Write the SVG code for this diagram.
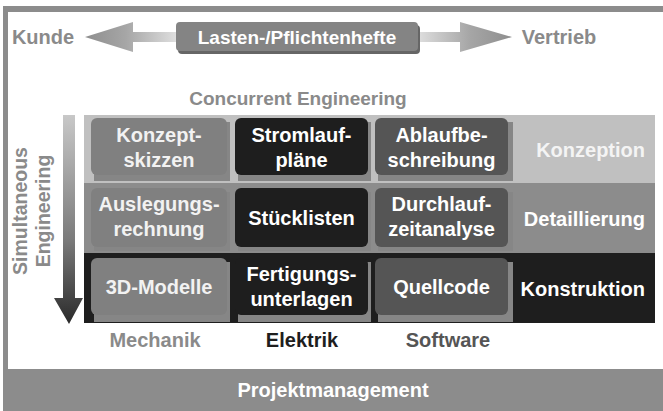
<svg xmlns="http://www.w3.org/2000/svg" width="663" height="411" viewBox="0 0 663 411">
<defs>
<linearGradient id="gL" x1="0" y1="0" x2="1" y2="0"><stop offset="0" stop-color="#8e8e8e"/><stop offset="0.45" stop-color="#a6a6a6"/><stop offset="1" stop-color="#dedede"/></linearGradient>
<linearGradient id="gR" x1="0" y1="0" x2="1" y2="0"><stop offset="0" stop-color="#dedede"/><stop offset="0.55" stop-color="#a6a6a6"/><stop offset="1" stop-color="#8e8e8e"/></linearGradient>
<linearGradient id="gV" x1="0" y1="0" x2="0" y2="1"><stop offset="0" stop-color="#c8c8c8"/><stop offset="0.6" stop-color="#7a7a7a"/><stop offset="1" stop-color="#2a2a2a"/></linearGradient>
<style>
text{font-family:"Liberation Sans",Arial,sans-serif;font-weight:bold;font-size:20px;text-anchor:middle}
.w{fill:#ffffff}
.sh{fill:#868686}
.c1{fill:#808080}
.c2{fill:#1e1e1e}
.c3{fill:#555555}
</style>
</defs>
<rect x="0" y="0" width="663" height="411" fill="#ffffff"/>
<!-- frame -->
<rect x="3" y="6" width="660" height="6" fill="#8c8c8c"/>
<rect x="3" y="6" width="5" height="365" fill="#8c8c8c"/>
<g id="projektmanagement">
<rect x="3" y="369" width="660" height="42" fill="#8c8c8c"/>
<text x="333" y="397" class="w">Projektmanagement</text>
</g>
<!-- top -->
<g id="kunde"><text x="43" y="44" fill="#8a8a8a">Kunde</text></g>
<g id="vertrieb"><text x="559" y="44" fill="#8a8a8a">Vertrieb</text></g>
<g id="connectors">
<path d="M85,37 L133,22 L133,32 L176,32 L176,42 L133,42 L133,52 Z" fill="url(#gL)"/>
<path d="M512,37 L460,22 L460,32 L418,32 L418,42 L460,42 L460,52 Z" fill="url(#gR)"/>
<path d="M63,115 L75,115 L75,298 L83,298 L69,324 L54,298 L63,298 Z" fill="url(#gV)"/>
</g>
<g id="lasten">
<rect x="178" y="25" width="242" height="29" rx="4" fill="#666666"/>
<rect x="176" y="22" width="242" height="29" rx="4" fill="#848484"/>
<text x="297" y="44" class="w" style="font-size:19px">Lasten-/Pflichtenhefte</text>
</g>
<g id="concurrent"><text x="298" y="105" fill="#8a8a8a" style="font-size:19px">Concurrent Engineering</text></g>
<g id="simultaneous">
<text transform="translate(27,211) rotate(-90)" fill="#8a8a8a" style="font-size:19.5px">Simultaneous</text>
<text transform="translate(50,211) rotate(-90)" fill="#8a8a8a" style="font-size:19.5px">Engineering</text>
</g>
<!-- rows -->
<g id="row-konzeption">
<rect x="84" y="115" width="571" height="68" fill="#c0c0c0"/>
<text x="645" y="157" fill="#f4f4f4" style="text-anchor:end">Konzeption</text>
</g>
<g id="row-detaillierung">
<rect x="84" y="183" width="571" height="70" fill="#8c8c8c"/>
<text x="645" y="226" class="w" style="text-anchor:end">Detaillierung</text>
</g>
<g id="row-konstruktion">
<rect x="84" y="253" width="571" height="70" fill="#1e1e1e"/>
<text x="645" y="296" class="w" style="text-anchor:end">Konstruktion</text>
</g>
<!-- cells row 1 -->
<g id="konzeptskizzen">
<rect class="sh" x="94" y="122" width="136" height="59"/>
<rect class="c1" x="91" y="118" width="136" height="57" rx="6"/>
<text x="159" y="142" fill="#f2f2f2">Konzept-</text><text x="159" y="167" fill="#f2f2f2">skizzen</text>
</g>
<g id="stromlaufplaene">
<rect class="sh" x="238" y="122" width="133" height="59"/>
<rect class="c2" x="235" y="118" width="133" height="57" rx="6"/>
<text x="301.5" y="142" class="w">Stromlauf-</text><text x="301.5" y="167" class="w">pläne</text>
</g>
<g id="ablaufbeschreibung">
<rect class="sh" x="378" y="122" width="135" height="59"/>
<rect class="c3" x="375" y="118" width="133" height="57" rx="6"/>
<text x="441.5" y="142" class="w">Ablaufbe-</text><text x="441.5" y="167" class="w">schreibung</text>
</g>
<!-- cells row 2 -->
<g id="auslegungsrechnung">
<rect class="sh" x="94" y="192" width="136" height="59"/>
<rect class="c1" x="91" y="188" width="136" height="59" rx="6"/>
<text x="159" y="211" fill="#f2f2f2">Auslegungs-</text><text x="159" y="236" fill="#f2f2f2">rechnung</text>
</g>
<g id="stuecklisten">
<rect class="sh" x="238" y="192" width="133" height="59"/>
<rect class="c2" x="235" y="188" width="133" height="59" rx="6"/>
<text x="301.5" y="224.5" class="w">Stücklisten</text>
</g>
<g id="durchlaufzeitanalyse">
<rect class="sh" x="378" y="192" width="135" height="59"/>
<rect class="c3" x="375" y="188" width="133" height="59" rx="6"/>
<text x="441.5" y="211" class="w">Durchlauf-</text><text x="441.5" y="236" class="w">zeitanalyse</text>
</g>
<!-- cells row 3 -->
<g id="modelle3d">
<rect class="sh" x="94" y="262" width="136" height="60"/>
<rect class="c1" x="91" y="258" width="136" height="57" rx="6"/>
<text x="159" y="293.5" fill="#f2f2f2">3D-Modelle</text>
</g>
<g id="fertigungsunterlagen">
<rect class="sh" x="238" y="262" width="133" height="60"/>
<rect class="c2" x="235" y="258" width="133" height="57" rx="6"/>
<text x="301.5" y="281" class="w">Fertigungs-</text><text x="301.5" y="306" class="w">unterlagen</text>
</g>
<g id="quellcode">
<rect class="sh" x="378" y="262" width="135" height="60"/>
<rect class="c3" x="375" y="258" width="133" height="57" rx="6"/>
<text x="441.5" y="293.5" class="w">Quellcode</text>
</g>
<!-- column labels -->
<g id="mechanik"><text x="155" y="347" fill="#8a8a8a">Mechanik</text></g>
<g id="elektrik"><text x="302" y="347" fill="#1e1e1e">Elektrik</text></g>
<g id="software"><text x="448" y="347" fill="#555555">Software</text></g>
</svg>
